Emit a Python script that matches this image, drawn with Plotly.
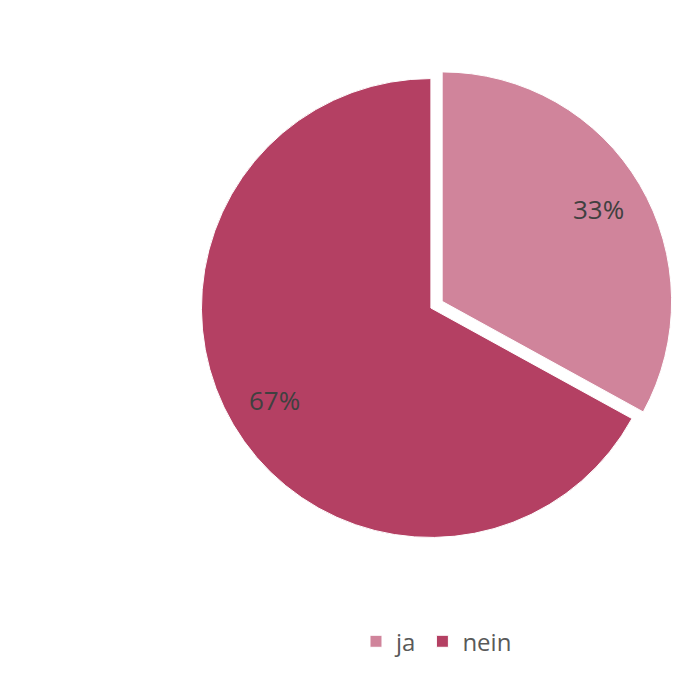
import math
import plotly.graph_objects as go

# Daten
labels = ['ja', 'nein']
values = [33, 67]
colors = ['#d0849b', '#b44063']
pulls = [0.057, 0]

W = H = 690
dom_x = [0.2614, 0.9644]
dom_y = [0.2136, 0.9168]

fig = go.Figure()
fig.add_trace(go.Pie(
    labels=labels,
    values=values,
    sort=False,
    direction='clockwise',
    rotation=0,
    pull=pulls,
    marker=dict(colors=colors, line=dict(color='white', width=1)),
    textinfo='none',
    domain=dict(x=dom_x, y=dom_y),
    hoverinfo='label+percent',
))

# Prozent-Beschriftungen wie in Excel (ca. 80% des Radius)
cx = (dom_x[0] + dom_x[1]) / 2 * W
cy = (dom_y[0] + dom_y[1]) / 2 * H
r = min((dom_x[1] - dom_x[0]) * W, (dom_y[1] - dom_y[0]) * H) / 2 / (1 + max(pulls))
total = sum(values)
start = 0
for lab, v, p in zip(labels, values, pulls):
    mid = math.radians((start + v / 2) / total * 360)
    d = (0.79 + p) * r
    fig.add_annotation(
        x=(cx + math.sin(mid) * d) / W, y=(cy + math.cos(mid) * d) / H,
        xref='paper', yref='paper', xanchor='center', yanchor='middle',
        showarrow=False,
        text=f'{round(v / total * 100)}%',
        font=dict(family='Open Sans', size=26, color='#404040'),
    )
    start += v

fig.update_layout(
    width=W, height=H,
    margin=dict(l=0, r=0, t=0, b=0),
    paper_bgcolor='white',
    showlegend=True,
    legend=dict(orientation='h', x=0.621, y=0.0816, xanchor='center', yanchor='middle',
                font=dict(family='Open Sans', size=24, color='#595959'),
                itemwidth=30),
)

fig.write_html("out.html")
